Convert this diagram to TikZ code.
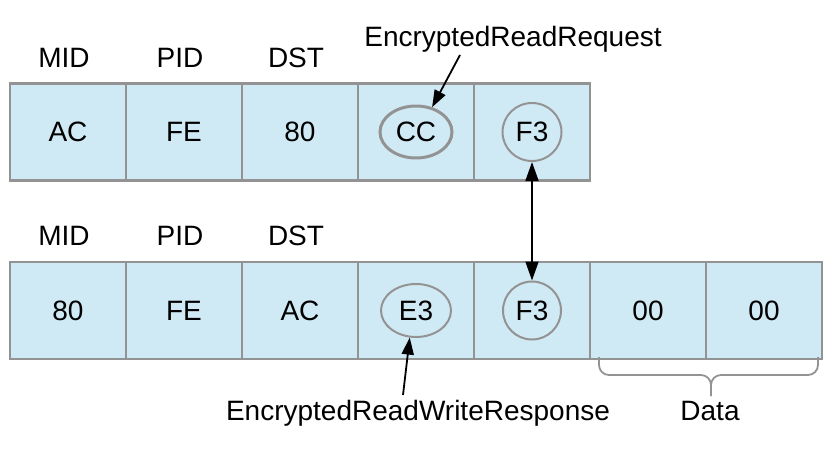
\documentclass[tikz,border=0pt]{standalone}
\usepackage{fontspec}
\setmainfont{Liberation Sans}
\usetikzlibrary{arrows.meta,shapes.geometric}
\definecolor{cellfill}{HTML}{D0EAF5}
\definecolor{cellline}{HTML}{939393}

\begin{document}
\begin{tikzpicture}[
  x=1pt, y=-1pt,
  every node/.style={font=\fontsize{28}{33}\selectfont, text=black},
  cell/.style={draw=cellline, fill=cellfill, line width=2.5pt,
               minimum width=116pt, minimum height=97pt, inner sep=0pt},
  ring/.style={draw=cellline, ellipse, line width=2pt, inner sep=0pt},
  head/.style={anchor=base, inner sep=0pt},
  link/.style={line width=1.8pt, -{Triangle[length=17pt, width=12pt]}},
  both/.style={line width=1.8pt,
               {Triangle[length=19pt, width=13pt]}-{Triangle[length=19pt, width=13pt]}},
  brace/.style={draw=cellline, line width=1.8pt, rounded corners=10pt}
]
\useasboundingbox (0,0) rectangle (836,450);

%% ==== top frame: request ============================================
\foreach \i/\v in {1/AC, 2/FE, 3/80, 4/{}, 5/{}}
  \node[cell] (t\i) at (68+116*\i-116, 132) {\v};

\foreach \i/\h in {1/MID, 2/PID, 3/DST}
  \node[head] (th\i) at ([xshift=-4pt, yshift=15pt]t\i.north) {\h};

\node[ring, line width=3pt, minimum width=72pt, minimum height=52pt] (cc) at (t4) {CC};
\node[ring, minimum width=59pt, minimum height=58pt] (ft) at (t5) {F3};

\node[head] (req) at (513, 46) {EncryptedReadRequest};
\draw[link] ([xshift=-53pt, yshift=-9pt]req.base) -- (cc.57);

%% ==== bottom frame: response ========================================
\foreach \i/\v in {1/80, 2/FE, 3/AC, 4/{}, 5/{}, 6/00, 7/00}
  \node[cell] (b\i) at (68+116*\i-116, 310.5) {\v};

\foreach \i/\h in {1/MID, 2/PID, 3/DST}
  \node[head] (bh\i) at ([xshift=-4pt, yshift=15pt]b\i.north) {\h};

\node[ring, minimum width=70pt, minimum height=53pt] (e3) at (b4) {E3};
\node[ring, minimum width=58pt, minimum height=58pt] (fb) at (b5) {F3};

\node[head] (resp) at (418, 420) {EncryptedReadWriteResponse};
\draw[link] ([xshift=-15pt, yshift=25pt]resp.base) -- (e3.-103);

\draw[both] (ft.south) -- (fb.north);

%% ==== data brace ====================================================
\draw[brace] (599,357) -- (599,375) -- (711,375) -- (711,396);
\draw[brace] (818,357) -- (818,375) -- (711,375) -- (711,396);
\node[head] (data) at (710, 420) {Data};

\end{tikzpicture}
\end{document}
